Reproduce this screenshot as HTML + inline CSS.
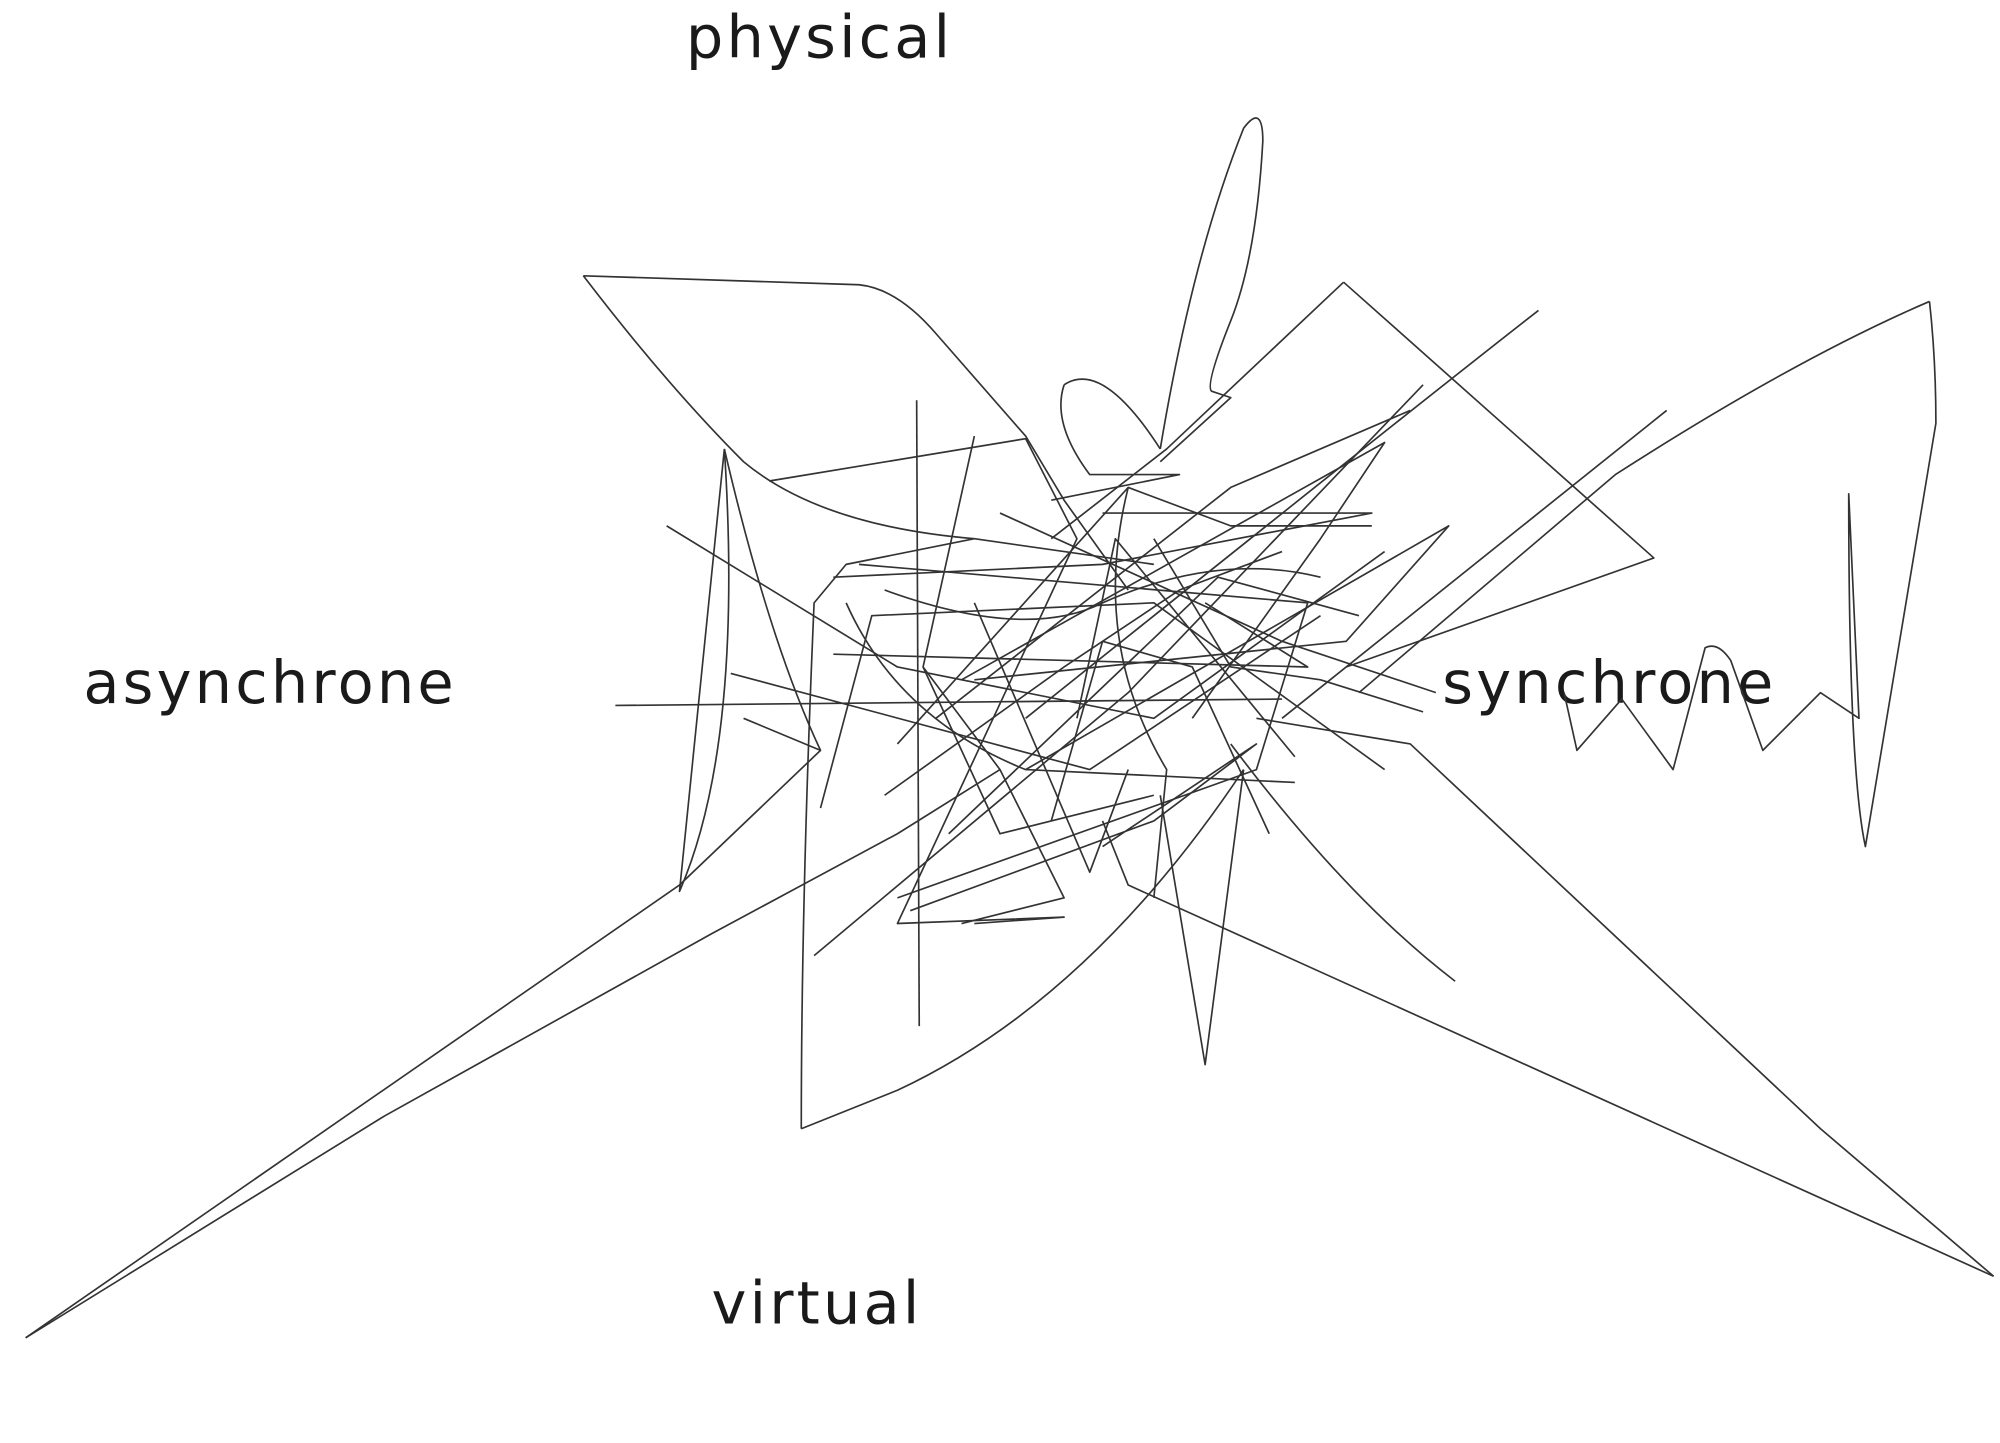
<!DOCTYPE html>
<html><head><meta charset="utf-8"><style>
html,body{margin:0;padding:0;background:#fff;}
svg{display:block;}
text{font-family:"DejaVu Sans","Liberation Sans",sans-serif;fill:#1a1a1a;font-size:46px;letter-spacing:2.5px;}
</style></head><body>
<svg width="2000" height="1443" viewBox="0 0 1560 1125" preserveAspectRatio="none" xmlns="http://www.w3.org/2000/svg">
<rect width="1560" height="1125" fill="#fff"/>
<text x="535" y="45">physical</text>
<text x="65" y="548">asynchrone</text>
<text x="1125" y="548">synchrone</text>
<text x="555" y="1032">virtual</text>
<g fill="none" stroke="#333" stroke-width="1.3" stroke-linejoin="round">
<path d="M20,1043 L530,690 L640,585"/>
<path d="M20,1043 L300,870 L555,728 L700,650 L780,600"/>
<path d="M1555,995 L880,690 L860,640"/>
<path d="M1555,995 L1420,880 L1100,580 L980,560"/>
<path d="M455,215 L670,222 Q700,225 730,260 L800,340 L830,390 L880,460"/>
<path d="M455,215 Q520,300 580,360 Q640,410 760,420 L900,440"/>
<path d="M905,350 Q930,200 970,100 Q985,80 985,110 Q980,200 960,250 Q940,300 945,305 L960,310 L905,360"/>
<path d="M1048,220 L1290,435 L1050,520"/>
<path d="M1048,220 L910,350 L820,420"/>
<path d="M1505,235 Q1510,280 1510,330 L1455,660 Q1442,600 1442,385 L1450,560 L1420,540 L1375,585 L1350,515 Q1340,500 1330,505 L1305,600 L1265,545 L1230,585 L1220,540"/>
<path d="M1505,235 Q1400,280 1260,370 L1060,540"/>
<path d="M715,312 L717,800"/>
<path d="M480,550 L1000,545"/>
<path d="M625,880 Q625,700 635,470 L660,440 L760,420"/>
<path d="M625,880 L700,850 Q850,780 970,600"/>
<path d="M905,620 L940,830 L970,600"/>
<path d="M1200,242 Q1100,320 800,560"/>
<path d="M1300,320 L1200,400 L1000,560"/>
<path d="M1135,765 Q1050,700 960,580"/>
<path d="M565,350 L530,695 Q580,580 565,350"/>
<path d="M565,350 Q600,500 640,585 L580,560"/>
<path d="M600,375 L800,342 L840,420 L700,720 L830,715 L760,720"/>
<path d="M520,410 L700,520 L900,560 L1080,430"/>
<path d="M830,300 Q820,330 850,370 L920,370 L820,390"/>
<path d="M830,300 Q860,280 905,350"/>
<path d="M760,340 L720,520 L780,650 L900,620"/>
<path d="M650,450 L860,440 L1070,400 L860,400"/>
<path d="M660,470 Q700,560 800,600 L1010,610"/>
<path d="M670,440 L1020,470 L980,600 L700,700"/>
<path d="M635,745 L880,540 L1110,300"/>
<path d="M640,630 L680,480 L900,470 L1080,600"/>
<path d="M570,525 L850,600 L1030,480"/>
<path d="M700,580 L880,380 L960,410 L1070,410"/>
<path d="M750,530 L1080,345 L1030,420 L930,560"/>
<path d="M800,600 L1130,410 L1050,500 L760,530"/>
<path d="M710,710 L900,640 L980,580 L860,660"/>
<path d="M900,420 L960,520 L1030,530 L1110,555"/>
<path d="M760,470 L850,680 L880,600"/>
<path d="M690,620 L830,520 L920,460 L1000,430"/>
<path d="M880,380 Q850,500 910,600 L900,700"/>
<path d="M730,560 L960,380 L1100,320"/>
<path d="M780,400 L1000,500 L1120,540"/>
<path d="M650,510 L1020,520 L940,470"/>
<path d="M820,640 L860,500 L930,520 L990,650"/>
<path d="M740,650 L950,450 L1060,480"/>
<path d="M690,460 Q800,500 860,470 Q950,430 1030,450"/>
<path d="M750,720 L830,700 L780,600 L720,520"/>
<path d="M840,560 L870,420 L1010,590"/>
</g>
</svg>
</body></html>
